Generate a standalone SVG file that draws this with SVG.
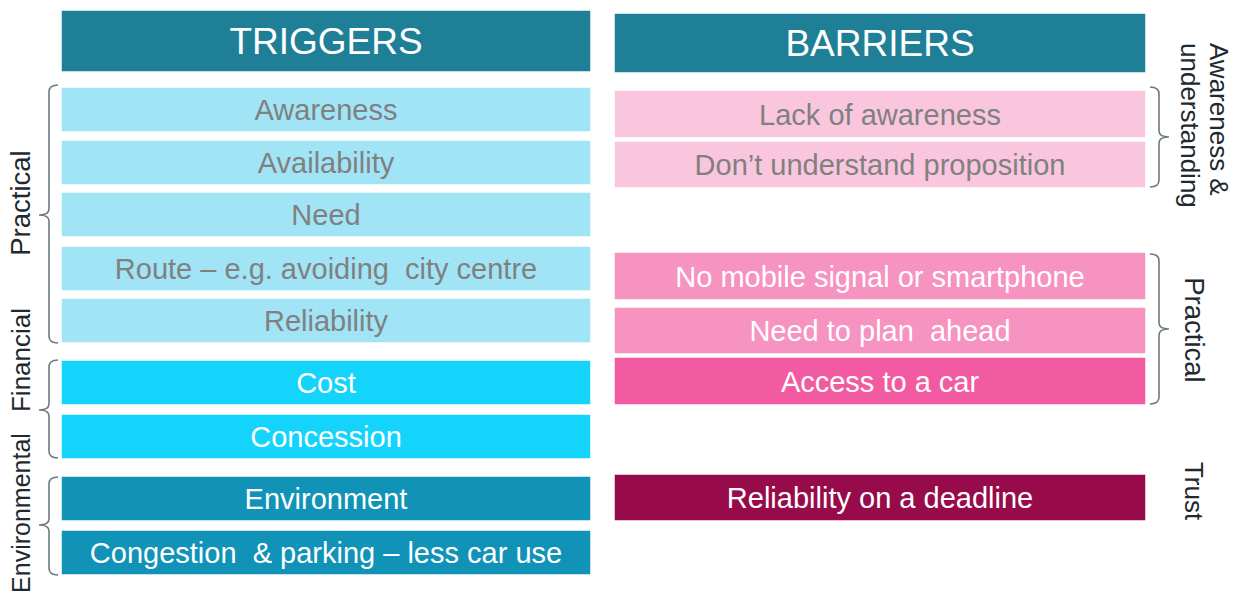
<svg xmlns="http://www.w3.org/2000/svg" width="1238" height="598" viewBox="0 0 1238 598">
  <style>
    text { font-family: "Liberation Sans", Arial, sans-serif; }
    .box { stroke: #ffffff; stroke-width: 1.5; }
    .head { fill: #1f7f97; }
    .lblue { fill: #a1e4f6; }
    .cyan { fill: #15d4fc; }
    .teal { fill: #1193b8; }
    .lpink { fill: #fac6de; }
    .mpink { fill: #f693c0; }
    .hpink { fill: #f25ba2; }
    .maroon { fill: #970b4a; }
    .t { font-size: 29px; text-anchor: middle; }
    .h { font-size: 37px; text-anchor: middle; fill: #ffffff; }
    .grey { fill: #808080; }
    .white { fill: #ffffff; }
    .side { font-size: 26px; fill: #1e2a30; }
    .brace { fill: none; stroke: #6b7b80; stroke-width: 1.6; }
  </style>

  <!-- Column headers -->
  <g id="triggers-header">
    <rect class="box head" x="61" y="10" width="530" height="62"/>
    <text class="h" x="326" y="54">TRIGGERS</text>
  </g>
  <g id="barriers-header">
    <rect class="box head" x="614" y="13" width="532" height="60"/>
    <text class="h" x="880" y="56">BARRIERS</text>
  </g>

  <!-- Triggers -->
  <g id="t-awareness">
    <rect class="box lblue" x="61" y="87" width="530" height="45"/>
    <text class="t grey" x="326" y="120">Awareness</text>
  </g>
  <g id="t-availability">
    <rect class="box lblue" x="61" y="140" width="530" height="45"/>
    <text class="t grey" x="326" y="173">Availability</text>
  </g>
  <g id="t-need">
    <rect class="box lblue" x="61" y="192" width="530" height="45"/>
    <text class="t grey" x="326" y="225">Need</text>
  </g>
  <g id="t-route">
    <rect class="box lblue" x="61" y="246" width="530" height="45"/>
    <text class="t grey" x="326" y="279" xml:space="preserve">Route – e.g. avoiding  city centre</text>
  </g>
  <g id="t-reliability">
    <rect class="box lblue" x="61" y="298" width="530" height="45"/>
    <text class="t grey" x="326" y="331">Reliability</text>
  </g>
  <g id="t-cost">
    <rect class="box cyan" x="61" y="360" width="530" height="45"/>
    <text class="t white" x="326" y="393">Cost</text>
  </g>
  <g id="t-concession">
    <rect class="box cyan" x="61" y="414" width="530" height="45"/>
    <text class="t white" x="326" y="447">Concession</text>
  </g>
  <g id="t-environment">
    <rect class="box teal" x="61" y="476" width="530" height="45"/>
    <text class="t white" x="326" y="509">Environment</text>
  </g>
  <g id="t-congestion">
    <rect class="box teal" x="61" y="530" width="530" height="45"/>
    <text class="t white" x="326" y="563" xml:space="preserve">Congestion  &amp; parking – less car use</text>
  </g>

  <!-- Barriers -->
  <g id="b-lack-awareness">
    <rect class="box lpink" x="614" y="90" width="532" height="48"/>
    <text class="t grey" x="880" y="125">Lack of awareness</text>
  </g>
  <g id="b-understand">
    <rect class="box lpink" x="614" y="141" width="532" height="47"/>
    <text class="t grey" x="880" y="175">Don’t understand proposition</text>
  </g>
  <g id="b-signal">
    <rect class="box mpink" x="614" y="252" width="532" height="48"/>
    <text class="t white" x="880" y="287">No mobile signal or smartphone</text>
  </g>
  <g id="b-plan">
    <rect class="box mpink" x="614" y="307" width="532" height="47"/>
    <text class="t white" x="880" y="341" xml:space="preserve">Need to plan  ahead</text>
  </g>
  <g id="b-car">
    <rect class="box hpink" x="614" y="357" width="532" height="48"/>
    <text class="t white" x="880" y="392">Access to a car</text>
  </g>
  <g id="b-deadline">
    <rect class="box maroon" x="614" y="474" width="532" height="47"/>
    <text class="t white" x="880" y="508">Reliability on a deadline</text>
  </g>

  <!-- Group braces -->
  <g id="braces">
    <path class="brace" d="M58,85 Q49,85 49,92 L49,209 Q49,215 39,215 Q49,215 49,221 L49,336 Q49,343 58,343"/>
    <path class="brace" d="M58,360 Q49,360 49,367 L49,404 Q49,410 39,410 Q49,410 49,416 L49,451 Q49,458 58,458"/>
    <path class="brace" d="M58,477 Q49,477 49,484 L49,519 Q49,525 39,525 Q49,525 49,531 L49,568 Q49,575 58,575"/>
    <path class="brace" d="M1150,87 Q1159,87 1159,94 L1159,131 Q1159,137 1169,137 Q1159,137 1159,143 L1159,180 Q1159,187 1150,187"/>
    <path class="brace" d="M1150,254 Q1159,254 1159,261 L1159,323 Q1159,329 1169,329 Q1159,329 1159,335 L1159,397 Q1159,404 1150,404"/>
  </g>

  <!-- Group labels -->
  <g id="labels">
    <text class="side" text-anchor="middle" style="font-size:27.5px" transform="translate(30,203) rotate(-90)">Practical</text>
    <text class="side" text-anchor="middle" transform="translate(30,360) rotate(-90)">Financial</text>
    <text class="side" text-anchor="middle" style="font-size:25px" transform="translate(30,513) rotate(-90)">Environmental</text>
    <text class="side" transform="translate(1210,43) rotate(90)">Awareness &amp;</text>
    <text class="side" transform="translate(1181,43) rotate(90)">understanding</text>
    <text class="side" text-anchor="middle" style="font-size:27.5px" transform="translate(1185,330) rotate(90)">Practical</text>
    <text class="side" text-anchor="middle" transform="translate(1185,491) rotate(90)">Trust</text>
  </g>
</svg>
